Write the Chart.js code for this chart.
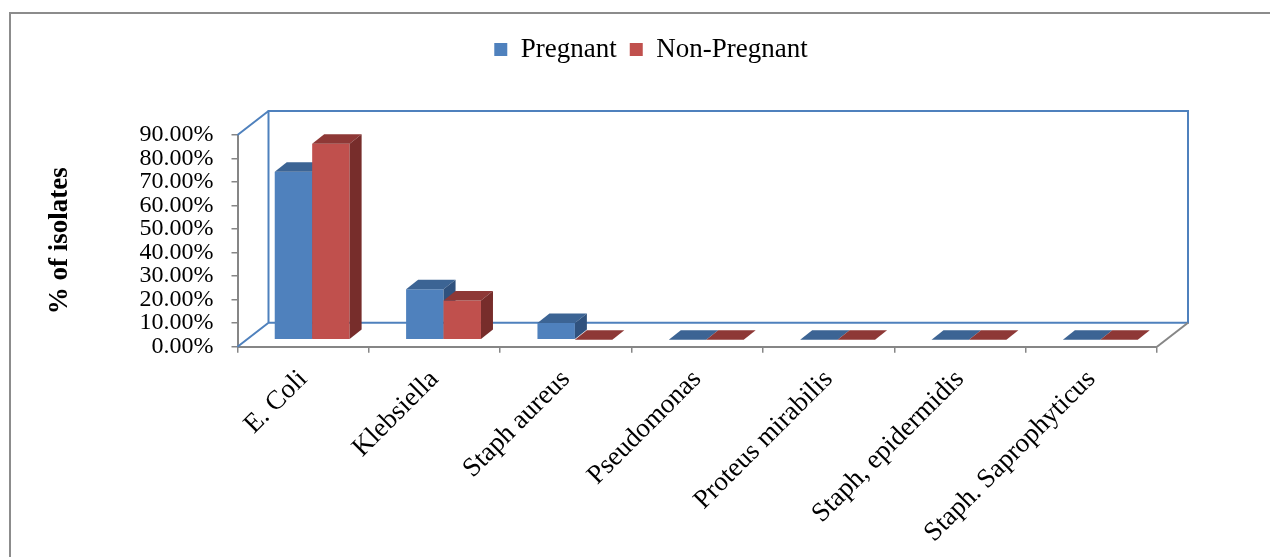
<!DOCTYPE html>
<html>
<head>
<meta charset="utf-8">
<script src="https://cdn.jsdelivr.net/npm/chart.js@4.4.1/dist/chart.umd.min.js"></script>
<style>
  html, body { margin: 0; padding: 0; background: #fff; }
  #wrap { width: 1270px; height: 557px; position: relative; }
</style>
</head>
<body>
<div id="wrap"><canvas id="chart"></canvas></div>
<script>
// values (% of isolates)
const categories = [
  "E. Coli",
  "Klebsiella",
  "Staph aureus",
  "Pseudomonas",
  "Proteus mirabilis",
  "Staph, epidermidis",
  "Staph. Saprophyticus",
];
const pregnant = [71.4, 21.4, 7.1, 0, 0, 0, 0];
const nonPregnant = [83.3, 16.7, 0, 0, 0, 0, 0];
const yMin = 0;
const yMax = 90;
const yStep = 10;

const FONT = "'Liberation Serif', 'Times New Roman', serif";
const GREY = "#868686";
const WALL = "#4F81BD";

// fake 3D: depth of the box, where bars sit in it, and bar thickness
const WALL_DX = 31, WALL_DY = 24;
const BAR_DX = 9, BAR_DY = 7;
const FACE_DX = 12, FACE_DY = 9.5;
const faces = [
  { top: "#3C6494", side: "#30527E" },
  { top: "#8E3836", side: "#772D2B" },
];

function poly(ctx, color, pts) {
  ctx.fillStyle = color;
  ctx.beginPath();
  ctx.moveTo(pts[0][0], pts[0][1]);
  for (let i = 1; i < pts.length; i++) ctx.lineTo(pts[i][0], pts[i][1]);
  ctx.closePath();
  ctx.fill();
}

const frame = {
  id: "frame",
  beforeDraw(chart) {
    const ctx = chart.ctx;
    ctx.save();
    ctx.fillStyle = "#fff";
    ctx.fillRect(0, 0, chart.width, chart.height);
    ctx.strokeStyle = "#8c8c8c";
    ctx.lineWidth = 2;
    ctx.beginPath();
    ctx.moveTo(10, chart.height);
    ctx.lineTo(10, 13);
    ctx.lineTo(chart.width, 13);
    ctx.stroke();
    ctx.restore();
  },
};

// make room under the legend
const legendGap = {
  id: "legendGap",
  beforeInit(chart) {
    const fit = chart.legend.fit;
    chart.legend.fit = function () {
      fit.call(this);
      this.height += 62;
    };
  },
};

const box3d = {
  id: "box3d",
  beforeDatasetsDraw(chart) {
    const { ctx, chartArea: a } = chart;
    ctx.save();
    ctx.strokeStyle = WALL;
    ctx.lineWidth = 2;
    ctx.beginPath();
    ctx.rect(a.left + WALL_DX, a.top - WALL_DY, a.right - a.left, a.bottom - a.top);
    ctx.moveTo(a.left, a.top);
    ctx.lineTo(a.left + WALL_DX, a.top - WALL_DY);
    ctx.moveTo(a.left, a.bottom);
    ctx.lineTo(a.left + WALL_DX, a.bottom - WALL_DY);
    ctx.stroke();
    ctx.strokeStyle = GREY;
    ctx.beginPath();
    ctx.moveTo(a.right, a.bottom);
    ctx.lineTo(a.right + WALL_DX, a.bottom - WALL_DY);
    ctx.stroke();
    ctx.restore();
  },
  beforeDatasetDraw() {
    return false; // drawn below, category by category, so faces overlap right
  },
  afterDatasetsDraw(chart) {
    const ctx = chart.ctx;
    const metas = chart.getSortedVisibleDatasetMetas();
    ctx.save();
    ctx.translate(BAR_DX, -BAR_DY);
    categories.forEach((c, i) => {
      metas.forEach((meta) => {
        const el = meta.data[i];
        const f = faces[meta.index];
        const { x, y, base, width } = el.getProps(["x", "y", "base", "width"], true);
        const l = x - width / 2, r = x + width / 2, t = Math.min(y, base);
        el.draw(ctx);
        poly(ctx, f.top, [[l, t], [l + FACE_DX, t - FACE_DY], [r + FACE_DX, t - FACE_DY], [r, t]]);
        poly(ctx, f.side, [[r, t], [r + FACE_DX, t - FACE_DY], [r + FACE_DX, base - FACE_DY], [r, base]]);
      });
    });
    ctx.restore();
  },
};

new Chart(document.getElementById("chart"), {
  type: "bar",
  data: {
    labels: categories,
    datasets: [
      { label: "Pregnant", data: pregnant, backgroundColor: "#4F81BD", borderWidth: 0 },
      { label: "Non-Pregnant", data: nonPregnant, backgroundColor: "#C0504D", borderWidth: 0 },
    ],
  },
  options: {
    responsive: true,
    maintainAspectRatio: false,
    animation: false,
    categoryPercentage: 0.57,
    barPercentage: 1.0,
    layout: { padding: { top: 23, left: 32, right: 0, bottom: 0 } },
    plugins: {
      legend: {
        position: "top",
        labels: {
          boxWidth: 13,
          boxHeight: 13,
          padding: 13,
          color: "#000",
          font: { family: FONT, size: 27 },
        },
      },
      tooltip: { enabled: false },
    },
    scales: {
      x: {
        offset: true,
        grid: { offset: true, drawOnChartArea: false, tickLength: 6, color: GREY, lineWidth: 1.5 },
        border: { color: GREY, width: 2 },
        ticks: {
          autoSkip: false,
          maxRotation: 45,
          minRotation: 45,
          padding: 11,
          color: "#000",
          font: { family: FONT, size: 27 },
        },
        afterFit(scale) {
          scale.height = 210.3;
        },
      },
      y: {
        min: yMin,
        max: yMax,
        ticks: {
          stepSize: yStep,
          autoSkip: false,
          padding: 18,
          color: "#000",
          font: { family: FONT, size: 24 },
          callback: (v) => v.toFixed(2) + "%",
        },
        grid: { drawOnChartArea: false, tickLength: 6, color: GREY, lineWidth: 1.5 },
        border: { color: GREY, width: 2 },
        title: {
          display: true,
          text: "% of isolates",
          color: "#000",
          font: { family: FONT, size: 27, weight: "bold" },
          padding: { top: 12, bottom: 0 },
        },
        afterFit(scale) {
          scale.width = 205.5;
        },
      },
      // empty axis, only keeps the right margin
      right: {
        position: "right",
        display: true,
        grid: { display: false },
        border: { display: false },
        ticks: { display: false },
        afterFit(scale) {
          scale.width = 113;
        },
      },
    },
  },
  plugins: [frame, legendGap, box3d],
});
</script>
</body>
</html>
